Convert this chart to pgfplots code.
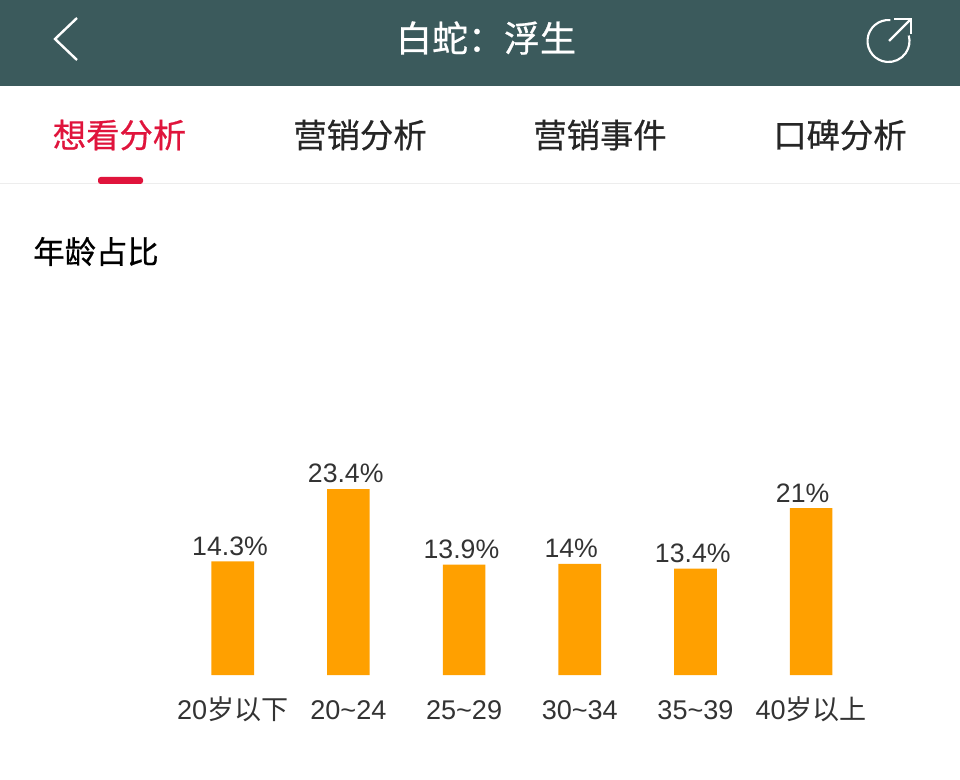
\documentclass[border=0pt]{standalone}
\usepackage{fontspec}
\usepackage{pgfplots}
\pgfplotsset{compat=1.18}
\setmainfont{Liberation Sans}
\newfontfamily\cjk{Noto Sans CJK SC}
\newfontfamily\cjkm[FakeBold=0.6]{Noto Sans CJK SC}
\definecolor{hdr}{HTML}{3B5A5C}
\definecolor{bar}{HTML}{FFA000}
\definecolor{red1}{HTML}{E0143C}
\definecolor{txt}{HTML}{333333}
\begin{document}
\begin{tikzpicture}[x=0.75pt,y=0.75pt]
\path[use as bounding box,fill=white] (0,0) rectangle (960,779);
\fill[hdr] (0,693) rectangle (960,779);
\draw[white,line width=1.8pt,line join=miter] (77,761) -- (55,740) -- (77,719);
\node[white,font=\cjkm\fontsize{27}{29}\selectfont] at (486,741) {白蛇：浮生};
\draw[white,line width=1.6pt] ([shift={(85:21)}]888.5,738) arc[start angle=85,end angle=375,radius=21];
\draw[white,line width=1.6pt] (889,738) -- (911,760);
\draw[white,line width=1.6pt] (894,760) -- (911,760) -- (911,745);
\node[red1,font=\cjkm\fontsize{25}{27}\selectfont] at (119.5,644) {想看分析};
\node[black!85,font=\cjkm\fontsize{25}{27}\selectfont] at (360,644) {营销分析};
\node[black!85,font=\cjkm\fontsize{25}{27}\selectfont] at (600,644) {营销事件};
\node[black!85,font=\cjkm\fontsize{25}{27}\selectfont] at (840,644) {口碑分析};
\fill[black!7] (0,594.5) rectangle (960,596);
\fill[red1,rounded corners=2pt] (98,595) rectangle (143,602);
\node[black,font=\cjkm\fontsize{23.5}{25}\selectfont] at (96,527.5) {年龄占比};
\begin{axis}[
  at={(151.15,130.7)},anchor=south west,
  scale only axis,width=520.6pt,height=238.5pt,
  xmin=-0.5,xmax=5.5,ymin=0,ymax=40,
  axis x line*=bottom,axis y line=none,
  axis line style={draw=none},
  xtick={0,...,5},
  xticklabels={20{\cjk 岁以下},20{\char`\~}24,25{\char`\~}29,30{\char`\~}34,35{\char`\~}39,40{\cjk 岁以上}},
  major tick length=0pt,
  xticklabel style={font=\fontsize{20.3}{22}\selectfont,text=txt,yshift=-15pt,text height=15pt,text depth=4pt},
  ybar,bar width=32pt,
  clip=false,
  /pgf/number format/assume math mode=true,
  nodes near coords={\pgfmathprintnumber{\pgfplotspointmeta}\%},
  nodes near coords style={font=\fontsize{20}{22}\selectfont,text=txt,xshift=-2pt,inner sep=1pt,yshift=3.2pt},
  coordinate style/.condition={\coordindex==3||\coordindex==5}{xshift=-4.4pt},
]
\addplot[fill=bar,draw=none] coordinates {(0,14.3) (1,23.4) (2,13.9) (3,14) (4,13.4) (5,21)};
\end{axis}
\end{tikzpicture}
\end{document}
